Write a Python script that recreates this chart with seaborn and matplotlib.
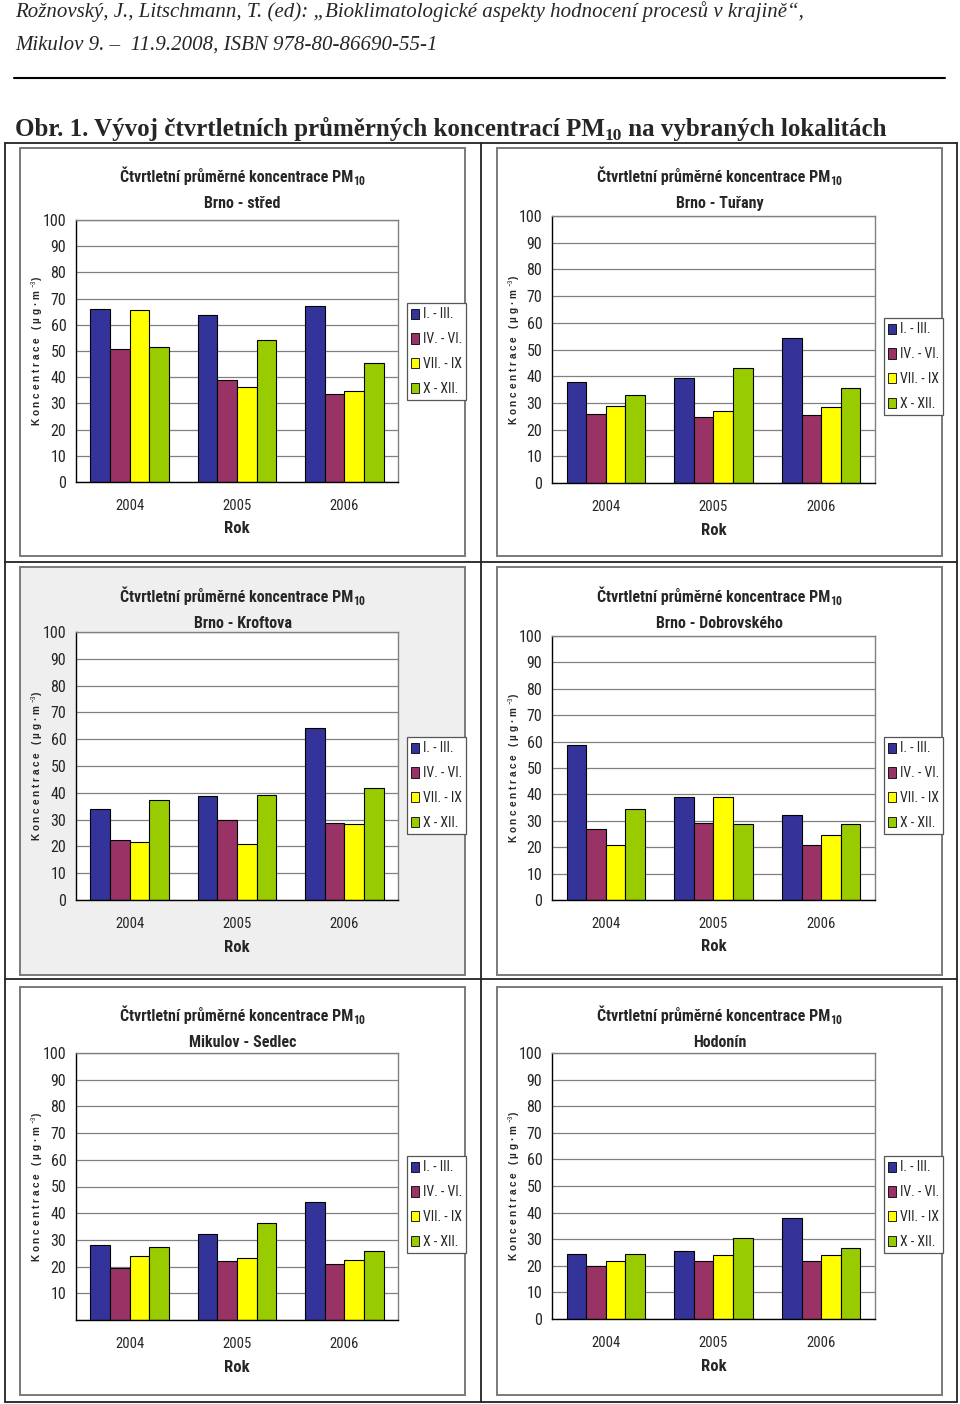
import numpy as np
import pandas as pd
import matplotlib
matplotlib.use("Agg")
import matplotlib.pyplot as plt
import seaborn as sns
from matplotlib import font_manager
from matplotlib.patches import Rectangle, Patch
from matplotlib.lines import Line2D

# ---------------- data ----------------
years = ["2004", "2005", "2006"]
quarters = ["I. - III.", "IV. - VI.", "VII. - IX", "X - XII."]
colors = ["#333399", "#993366", "#FFFF00", "#99CC00"]
yticks = list(range(0, 101, 10))

# values per quarter (rows) for years 2004, 2005, 2006 (columns)
brno_stred = [[66.0, 63.6, 67.0], [50.8, 39.0, 33.5], [65.6, 36.4, 34.8], [51.6, 54.2, 45.3]]
brno_turany = [[38.0, 39.3, 54.2], [25.8, 24.7, 25.5], [28.8, 27.1, 28.5], [33.0, 42.9, 35.5]]
brno_kroftova = [[34.1, 38.7, 64.0], [22.4, 29.9, 28.8], [21.8, 21.0, 28.4], [37.5, 39.1, 41.7]]
brno_dobrovskeho = [[58.9, 39.2, 32.3], [27.0, 29.1, 20.9], [20.9, 39.2, 24.5], [34.4, 28.8, 28.8]]
mikulov_sedlec = [[28.0, 32.3, 44.1], [19.6, 22.0, 20.8], [23.8, 23.3, 22.4], [27.2, 36.2, 25.9]]
hodonin = [[24.4, 25.7, 37.8], [20.0, 21.8, 21.8], [21.8, 23.9, 23.9], [24.4, 30.5, 26.6]]

site_names = ["Brno - střed", "Brno - Tuřany", "Brno - Kroftova",
              "Brno - Dobrovského", "Mikulov - Sedlec", "Hodonín"]
site_values = [brno_stred, brno_turany, brno_kroftova,
               brno_dobrovskeho, mikulov_sedlec, hodonin]

chart_title = "Čtvrtletní průměrné koncentrace PM"
header_1 = "Rožnovský, J., Litschmann, T. (ed): „Bioklimatologické aspekty hodnocení procesů v krajině“,"
header_2 = "Mikulov 9. –  11.9.2008, ISBN 978-80-86690-55-1"
fig_title = "Obr. 1. Vývoj čtvrtletních průměrných koncentrací PM"
fig_title_end = " na vybraných lokalitách"
ylabel_text = "K o n c e n t r a c e   ( µ g · m $^{-3}$)"

# ---------------- fonts ----------------
sns.set_style("white")
avail = {f.name for f in font_manager.fontManager.ttflist}
FAM = "Liberation Sans"
narrow = False
for cand in ["Liberation Sans Narrow", "Arial Narrow", "Roboto Condensed", "Open Sans Condensed"]:
    if cand in avail:
        FAM = cand
        narrow = True
        break
k = 1.0 if narrow else 0.87
SERIF = "Liberation Serif"
plt.rcParams["font.family"] = [FAM, "DejaVu Sans"]
plt.rcParams["mathtext.fontset"] = "custom"
plt.rcParams["mathtext.rm"] = FAM
plt.rcParams["mathtext.it"] = FAM + ":italic"
plt.rcParams["mathtext.bf"] = FAM + ":bold"

W, H = 960, 1404
fig = plt.figure(figsize=(W / 100, H / 100), dpi=100)
fig.patch.set_facecolor("white")
renderer = fig.canvas.get_renderer()


def fx(x):
    return x / W


def fy(y):
    return 1 - y / H


def text_sub(x, y, main, sub, size, subsize, family, weight="normal", style="normal",
             ha="center", sub_drop=4, tail=""):
    kw = dict(family=family, weight=weight, style=style, ha="left", va="baseline")
    t1 = fig.text(0, 0, main, fontsize=size, **kw)
    t2 = fig.text(0, 0, sub, fontsize=subsize, **kw)
    t3 = fig.text(0, 0, tail, fontsize=size, **kw) if tail else None
    w1 = t1.get_window_extent(renderer).width
    w2 = t2.get_window_extent(renderer).width
    w3 = t3.get_window_extent(renderer).width if t3 is not None else 0
    x0 = x - (w1 + w2 + w3) / 2 if ha == "center" else x
    t1.set_position((fx(x0), fy(y)))
    t2.set_position((fx(x0 + w1), fy(y + sub_drop)))
    if t3 is not None:
        t3.set_position((fx(x0 + w1 + w2), fy(y)))


# ---------------- page decoration ----------------
fig.text(fx(15), fy(17), header_1, fontsize=15, family=SERIF, style="italic", ha="left", va="baseline")
fig.text(fx(15), fy(50), header_2, fontsize=15, family=SERIF, style="italic", ha="left", va="baseline")
fig.add_artist(Line2D([fx(14), fx(945)], [fy(78), fy(78)], color="black", lw=1.5))
text_sub(15, 136, fig_title, "10", 18, 12.5, SERIF, weight="bold", ha="left", sub_drop=4,
         tail=fig_title_end)

# table grid
lw_t = 1.3
for (x1, y1, x2, y2) in [(4.5, 143, 957, 143), (4.5, 1402, 957, 1402), (4.5, 143, 4.5, 1402),
                         (957, 143, 957, 1402), (480.5, 143, 480.5, 1402),
                         (4.5, 561.5, 957, 561.5), (4.5, 979, 957, 979)]:
    fig.add_artist(Line2D([fx(x1), fx(x2)], [fy(y1), fy(y2)], color="#222222", lw=lw_t))

# panel geometry: frame (x1,y1,x2,y2), plot (x1,y1,x2,y2), legend top-left (x,y), title y, ylabel x
panels = [
    dict(frame=(20, 148, 465, 556), plot=(76, 220, 398, 482), leg=(407, 303), ty=176, ylx=37, bg="white"),
    dict(frame=(497, 148, 942, 556), plot=(552, 216, 875, 483), leg=(884, 318), ty=176, ylx=514, bg="white"),
    dict(frame=(20, 567, 465, 975), plot=(76, 632, 398, 900), leg=(407, 737), ty=596, ylx=37, bg="#efefef"),
    dict(frame=(497, 567, 942, 975), plot=(552, 636, 875, 900), leg=(884, 737), ty=596, ylx=514, bg="white"),
    dict(frame=(20, 987, 465, 1395), plot=(76, 1053, 398, 1320), leg=(407, 1156), ty=1015, ylx=37, bg="white"),
    dict(frame=(497, 987, 942, 1395), plot=(552, 1053, 875, 1319), leg=(884, 1156), ty=1015, ylx=514, bg="white"),
]

for i, (p, name, vals) in enumerate(zip(panels, site_names, site_values)):
    fx1, fy1, fx2, fy2 = p["frame"]
    fig.add_artist(Rectangle((fx(fx1), fy(fy2)), fx(fx2) - fx(fx1), (fy2 - fy1) / H,
                             transform=fig.transFigure, facecolor=p["bg"], edgecolor="#7a7a7a",
                             lw=1.4, zorder=-1))
    px1, py1, px2, py2 = p["plot"]
    ax = fig.add_axes([fx(px1), fy(py2), (px2 - px1) / W, (py2 - py1) / H])
    ax.set_facecolor("white")

    df = pd.DataFrame({
        "Rok": [y for q in quarters for y in years],
        "Období": [q for q in quarters for y in years],
        "Koncentrace": [v for row in vals for v in row],
    })
    sns.barplot(data=df, x="Rok", y="Koncentrace", hue="Období", order=years,
                hue_order=quarters, palette=colors, saturation=1, width=0.73,
                edgecolor="black", linewidth=0.8, ax=ax, legend=False, errorbar=None)

    ax.set_xlim(-0.5, 2.5)
    ax.set_ylim(0, 100)
    ax.set_yticks(yticks)
    ylabels = [str(t) for t in yticks]
    if i == 4:
        ylabels[0] = ""
    ax.set_yticklabels(ylabels, fontsize=11.5 * k)
    ax.yaxis.grid(True, color="#808080", lw=0.9)
    ax.xaxis.grid(False)
    ax.set_axisbelow(True)
    ax.tick_params(axis="y", direction="out", length=5, width=1, color="black", pad=2)
    ax.set_xticks([0, 1, 2])
    ax.set_xticklabels(years, fontsize=10.5 * k)
    ax.set_xticks([-0.5, 0.5, 1.5, 2.5], minor=True)
    ax.tick_params(axis="x", which="major", length=0, pad=12)
    ax.tick_params(axis="x", which="minor", direction="out", length=5, width=1, color="black")
    for s in ["top", "right"]:
        ax.spines[s].set_color("#808080")
        ax.spines[s].set_linewidth(1)
    for s in ["left", "bottom"]:
        ax.spines[s].set_color("black")
        ax.spines[s].set_linewidth(1)

    ax.set_xlabel("Rok", fontsize=12 * k, weight="bold")
    ax.xaxis.set_label_coords(0.5, -(521 - 482) / 262)
    ax.set_ylabel(ylabel_text, fontsize=7.2, weight="bold",
                  family=["Liberation Sans", "DejaVu Sans"])
    ax.yaxis.label.set_verticalalignment("center")
    ax.yaxis.set_label_coords((p["ylx"] - px1) / (px2 - px1), 0.5)

    handles = [Patch(facecolor=c, edgecolor="black", lw=0.6, label=q) for c, q in zip(colors, quarters)]
    lx, ly = p["leg"]
    leg = ax.legend(handles=handles, loc="upper left", bbox_to_anchor=(fx(lx), fy(ly)),
                    bbox_transform=fig.transFigure, frameon=True, fancybox=False,
                    edgecolor="#555555", framealpha=1, fontsize=10 * k, handlelength=0.55,
                    handleheight=0.75, handletextpad=0.25, labelspacing=0.78 / k,
                    borderpad=0.32, borderaxespad=0)
    leg.get_frame().set_linewidth(0.9)

    cx = (fx1 + fx2) / 2
    text_sub(cx, p["ty"] + 6, chart_title, "10", 11.5 * k, 8.5 * k, [FAM, "DejaVu Sans"],
             weight="bold", sub_drop=3)
    fig.text(fx(cx), fy(p["ty"] + 32), name, fontsize=11.5 * k, weight="bold",
             ha="center", va="baseline")

fig.savefig("out.png", dpi=100)
